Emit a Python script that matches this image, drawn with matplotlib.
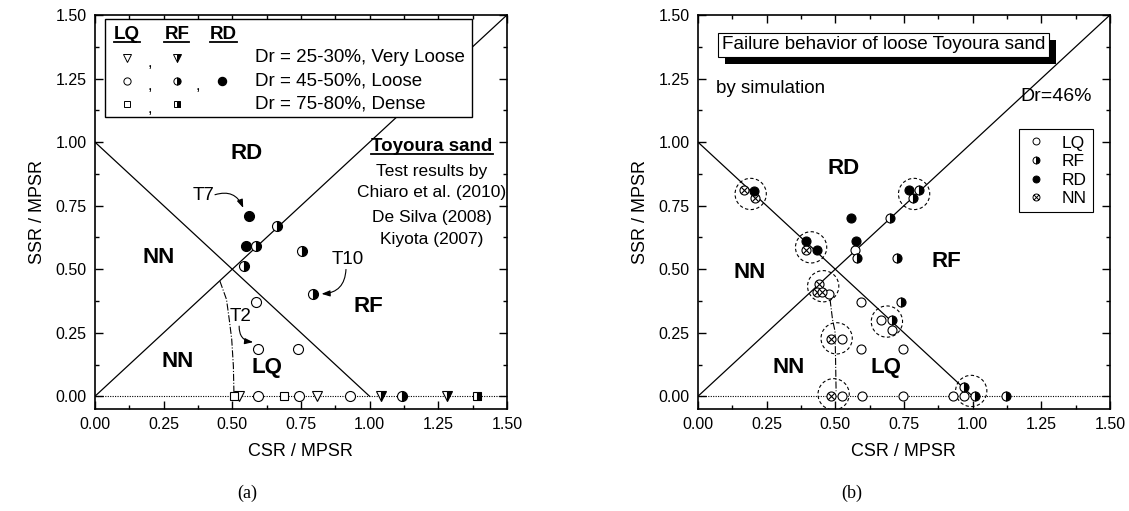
import matplotlib.pyplot as plt
import matplotlib.patheffects as pe
from matplotlib.lines import Line2D
from matplotlib.path import Path
from matplotlib.ticker import MultipleLocator, FormatStrFormatter

plt.rcParams['font.family'] = ['Liberation Sans', 'DejaVu Sans']

# ---- (a) laboratory test results ----
# LQ, open markers
a_lq_vloose_x = [0.525, 0.807]
a_lq_vloose_y = [0.0, 0.0]
a_lq_loose_x = [0.588, 0.595, 0.740, 0.595, 0.743, 0.928]
a_lq_loose_y = [0.370, 0.187, 0.187, 0.0, 0.0, 0.0]
a_lq_dense_x = [0.506, 0.688]
a_lq_dense_y = [0.0, 0.0]
# RF, half filled markers
a_rf_vloose_x = [1.040, 1.283]
a_rf_vloose_y = [0.0, 0.0]
a_rf_loose_x = [0.588, 0.664, 0.542, 0.755, 0.795, 1.117]
a_rf_loose_y = [0.593, 0.669, 0.514, 0.573, 0.403, 0.0]
a_rf_dense_x = [1.392]
a_rf_dense_y = [0.0]
# RD, filled markers
a_rd_loose_x = [0.562, 0.550]
a_rd_loose_y = [0.708, 0.593]
# LQ / NN boundary (dash-dot)
a_bound_x = [0.455, 0.479, 0.489, 0.498, 0.504, 0.506]
a_bound_y = [0.453, 0.381, 0.302, 0.224, 0.119, 0.016]

# ---- (b) simulation, Dr = 46% ----
b_lq_x = [0.478, 0.592, 0.666, 0.708, 0.523, 0.593, 0.745, 0.572, 0.523, 0.598, 0.747, 0.929, 0.970]
b_lq_y = [0.404, 0.370, 0.300, 0.260, 0.224, 0.188, 0.188, 0.577, 0.0, 0.0, 0.0, 0.0, 0.0]
b_rf_x = [0.806, 0.784, 0.699, 0.578, 0.723, 0.738, 0.708, 0.970, 1.008, 1.121]
b_rf_y = [0.813, 0.780, 0.702, 0.545, 0.545, 0.370, 0.300, 0.038, 0.0, 0.0]
b_rd_x = [0.204, 0.769, 0.393, 0.432, 0.557, 0.574]
b_rd_y = [0.806, 0.813, 0.610, 0.575, 0.702, 0.610]
b_nn_x = [0.167, 0.207, 0.393, 0.442, 0.432, 0.452, 0.485, 0.485]
b_nn_y = [0.810, 0.780, 0.575, 0.440, 0.410, 0.410, 0.224, 0.0]
# clusters highlighted with dashed circles
b_cluster_x = [0.192, 0.787, 0.412, 0.456, 0.688, 0.505, 0.494, 0.995]
b_cluster_y = [0.796, 0.796, 0.586, 0.433, 0.294, 0.228, 0.008, 0.021]
b_bound_x = [0.481, 0.490, 0.499, 0.501, 0.503]
b_bound_y = [0.381, 0.302, 0.256, 0.150, 0.020]

ticks = [0.0, 0.25, 0.5, 0.75, 1.0, 1.25, 1.5]

d = 0.707
nn_marker = Path.make_compound_path(
    Path.unit_circle(),
    Path([(-d, -d), (d, d), (-d, d), (d, -d)],
         [Path.MOVETO, Path.LINETO, Path.MOVETO, Path.LINETO]))


def style(kind):
    if kind == 'open':
        return dict(mfc='white', mec='k')
    if kind == 'half':
        return dict(fillstyle='right', mfc='k', markerfacecoloralt='white', mec='k')
    return dict(mfc='k', mec='k')


def pts(ax, x, y, marker, kind, ms=7.2, **kw):
    ax.plot(x, y, ls='none', marker=marker, ms=ms, mew=0.8, zorder=5,
            **style(kind), **kw)


def frame(ax):
    ax.set_xlim(0, 1.5)
    ax.set_ylim(-0.05, 1.5)
    ax.set_xticks(ticks)
    ax.set_yticks(ticks)
    ax.xaxis.set_minor_locator(MultipleLocator(0.125))
    ax.yaxis.set_minor_locator(MultipleLocator(0.125))
    ax.xaxis.set_major_formatter(FormatStrFormatter('%.2f'))
    ax.yaxis.set_major_formatter(FormatStrFormatter('%.2f'))
    ax.tick_params(which='both', direction='in', top=True, right=True, width=1)
    ax.tick_params(which='major', length=6, labelsize=11.5, pad=6)
    ax.tick_params(which='minor', length=3)
    for s in ax.spines.values():
        s.set_linewidth(1.2)
    ax.set_xlabel('CSR / MPSR', fontsize=13, labelpad=8)
    ax.set_ylabel('SSR / MPSR', fontsize=13, labelpad=7)
    ax.plot([0, 1.5], [0, 1.5], color='k', lw=0.9, zorder=2)
    ax.plot([0, 1.0], [1.0, 0], color='k', lw=0.9, zorder=2)
    ax.axhline(0, color='k', lw=0.8, ls=(0, (1, 1.2)), zorder=1)


fig = plt.figure(figsize=(11.29, 5.11), dpi=100)
ax1 = fig.add_axes([0.0841, 0.1996, 0.3649, 0.7710])
ax2 = fig.add_axes([0.6182, 0.1996, 0.3649, 0.7710])

# ---------- panel (a) ----------
frame(ax1)
ax1.plot(a_bound_x, a_bound_y, color='k', lw=0.8, ls='-.', zorder=3)
pts(ax1, a_lq_vloose_x, a_lq_vloose_y, 'v', 'open', ms=7.5)
pts(ax1, a_lq_loose_x, a_lq_loose_y, 'o', 'open')
pts(ax1, a_lq_dense_x, a_lq_dense_y, 's', 'open', ms=6.3)
pts(ax1, a_rf_vloose_x, a_rf_vloose_y, 'v', 'half', ms=7.5)
pts(ax1, a_rf_loose_x, a_rf_loose_y, 'o', 'half')
pts(ax1, a_rf_dense_x, a_rf_dense_y, 's', 'half', ms=6.3)
pts(ax1, a_rd_loose_x, a_rd_loose_y, 'o', 'filled')

bold = dict(fontsize=16, fontweight='bold', ha='center', va='center')
ax1.text(0.552, 0.955, 'RD', **bold)
ax1.text(0.231, 0.545, 'NN', **bold)
ax1.text(0.302, 0.137, 'NN', **bold)
ax1.text(0.626, 0.114, 'LQ', **bold)
ax1.text(0.997, 0.353, 'RF', **bold)

lab = dict(fontsize=13.5, ha='center', va='center')
ax1.text(0.394, 0.790, 'T7', **lab)
ax1.text(0.531, 0.312, 'T2', **lab)
ax1.text(0.919, 0.538, 'T10', **lab)
arw = dict(arrowstyle='-|>,head_length=0.5,head_width=0.18', color='k', lw=0.8,
           shrinkA=0, shrinkB=0)
ax1.annotate('', xy=(0.540, 0.741), xytext=(0.437, 0.793),
             arrowprops=dict(connectionstyle='arc3,rad=-0.45', **arw))
ax1.annotate('', xy=(0.576, 0.213), xytext=(0.525, 0.276),
             arrowprops=dict(connectionstyle='arc3,rad=0.45', **arw))
ax1.annotate('', xy=(0.825, 0.403), xytext=(0.914, 0.499),
             arrowprops=dict(connectionstyle='arc3,rad=-0.45', **arw))

# legend box of panel (a)
T = ax1.transAxes
ax1.add_patch(plt.Rectangle((0.0243, 0.741), 0.891, 0.249, transform=T,
                            facecolor='white', edgecolor='k', lw=1, zorder=6))
heads = []
for hx, h in zip([0.078, 0.199, 0.311], ['LQ', 'RF', 'RD']):
    heads.append(ax1.text(hx, 0.950, h, transform=T, fontsize=13.5,
                          fontweight='bold', ha='center', va='center', zorder=7))
rows_y = [0.891, 0.833, 0.774]
rows_txt = ['Dr = 25-30%, Very Loose', 'Dr = 45-50%, Loose', 'Dr = 75-80%, Dense']
rows_mk = ['v', 'o', 's']
for ry, rt, mk in zip(rows_y, rows_txt, rows_mk):
    ms = 5.2 if mk != 's' else 4.6
    ax1.plot([0.077], [ry], transform=T, marker=mk, ms=ms, mew=0.7, ls='none',
             zorder=7, **style('open'))
    ax1.plot([0.198], [ry], transform=T, marker=mk, ms=ms, mew=0.7, ls='none',
             zorder=7, **style('half'))
    ax1.text(0.133, ry - 0.012, ',', transform=T, fontsize=12, ha='center',
             va='center', zorder=7)
    ax1.text(0.388, ry, rt, transform=T, fontsize=13.5, ha='left', va='center',
             zorder=7)
ax1.plot([0.308], [rows_y[1]], transform=T, marker='o', ms=5.8, ls='none',
         zorder=7, **style('filled'))
ax1.text(0.250, rows_y[1] - 0.012, ',', transform=T, fontsize=12, ha='center',
         va='center', zorder=7)

toy = ax1.text(0.818, 0.666, 'Toyoura sand', transform=T, fontsize=13.5,
               fontweight='bold', ha='center', va='center')
for ty, tt in zip([0.602, 0.549, 0.485, 0.429],
                  ['Test results by', 'Chiaro et al. (2010)', 'De Silva (2008)',
                   'Kiyota (2007)']):
    ax1.text(0.818, ty, tt, transform=T, fontsize=12.5, ha='center', va='center')

# ---------- panel (b) ----------
frame(ax2)
ax2.plot(b_bound_x, b_bound_y, color='k', lw=0.8, ls='-.', zorder=3)
ax2.scatter(b_cluster_x, b_cluster_y, s=22.5 ** 2, facecolors='none',
            edgecolors='k', linewidths=0.8, linestyles=(0, (3, 2.2)), zorder=4)
pts(ax2, b_lq_x, b_lq_y, 'o', 'open', ms=6.5)
pts(ax2, b_nn_x, b_nn_y, nn_marker, 'open', ms=6.5)
pts(ax2, b_rf_x, b_rf_y, 'o', 'half', ms=6.5)
pts(ax2, b_rd_x, b_rd_y, 'o', 'filled', ms=6.5)

ax2.text(0.529, 0.898, 'RD', **bold)
ax2.text(0.903, 0.531, 'RF', **bold)
ax2.text(0.187, 0.488, 'NN', **bold)
ax2.text(0.329, 0.113, 'NN', **bold)
ax2.text(0.684, 0.113, 'LQ', **bold)

T2 = ax2.transAxes
box = ax2.text(0.451, 0.924, 'Failure behavior of loose Toyoura sand',
               transform=T2, fontsize=13.6, ha='center', va='center', zorder=8,
               bbox=dict(boxstyle='square,pad=0.2', facecolor='white',
                         edgecolor='k', lw=0.8))
box.get_bbox_patch().set_path_effects(
    [pe.SimplePatchShadow(offset=(5, -5), shadow_rgbFace='k', alpha=1),
     pe.Normal()])
ax2.text(0.045, 0.814, 'by simulation', transform=T2, fontsize=13.5,
         ha='left', va='center')
ax2.text(0.782, 0.793, 'Dr=46%', transform=T2, fontsize=14, ha='left',
         va='center')

handles = [
    Line2D([], [], ls='none', marker='o', ms=5, mew=0.7, **style('open')),
    Line2D([], [], ls='none', marker='o', ms=5, mew=0.7, **style('half')),
    Line2D([], [], ls='none', marker='o', ms=5, mew=0.7, **style('filled')),
    Line2D([], [], ls='none', marker=nn_marker, ms=5, mew=0.7, **style('open')),
]
leg = ax2.legend(handles, ['LQ', 'RF', 'RD', 'NN'], loc='upper right',
                 bbox_to_anchor=(0.958, 0.71), fontsize=12.5, frameon=True,
                 fancybox=False, edgecolor='k', framealpha=1, handlelength=1.3,
                 handletextpad=0.8, borderpad=0.35, labelspacing=0.2,
                 borderaxespad=0)
leg.get_frame().set_linewidth(0.8)

# captions
fig.text(0.219, 0.035, '(a)', fontsize=13, family='Liberation Serif',
         ha='center', va='center')
fig.text(0.754, 0.035, '(b)', fontsize=13, family='Liberation Serif',
         ha='center', va='center')

# underline the bold headings
fig.canvas.draw()
inv = fig.transFigure.inverted()
for t in heads + [toy]:
    bb = t.get_window_extent()
    (x0, y0), (x1, _) = inv.transform([(bb.x0, bb.y0 + 1), (bb.x1, bb.y0)])
    fig.add_artist(Line2D([x0, x1], [y0, y0], color='k', lw=1.3, zorder=9))

fig.savefig('out.png', dpi=100)
